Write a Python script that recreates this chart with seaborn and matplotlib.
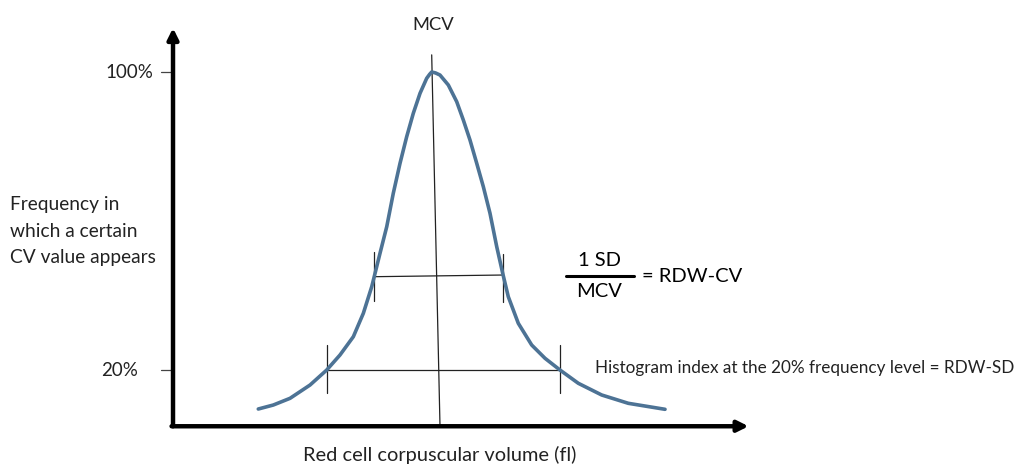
import matplotlib
matplotlib.use("Agg")
import matplotlib.pyplot as plt
import seaborn as sns
import pandas as pd

# ---- data (volume in arbitrary units, frequency in %) ----
volume = [14.83, 17.44, 20.35, 23.83, 26.73, 29.04, 31.36, 33.10, 34.56, 36.0,
          37.17, 38.31, 39.48, 40.64, 41.79, 42.96, 44.12, 44.64, 44.99, 45.65,
          46.43, 47.88, 49.34, 50.49, 51.65, 52.82, 53.97, 55.13, 56.30, 57.34,
          58.31, 60.05, 62.38, 64.70, 67.30, 70.49, 74.56, 79.18, 85.57]
frequency = [9.53, 10.60, 12.40, 15.97, 20.0, 24.03, 28.94, 35.22, 42.36, 51.33,
             58.47, 67.44, 75.49, 82.63, 88.91, 94.28, 98.31, 99.40, 100.0, 99.75,
             99.19, 96.51, 92.03, 87.11, 81.74, 75.49, 69.21, 62.07, 53.10, 45.96,
             39.68, 32.54, 26.71, 23.14, 20.0, 16.43, 13.29, 11.06, 9.45]
tick_values = [100, 20]
tick_labels = ["100%", "20%"]
sd_level = [45.05, 45.5]          # left / right of 1 SD line
sd_x = [34.99, 57.4]
rdw_sd_level = 20.0
rdw_sd_x = [26.73, 67.30]
mcv_x = [44.99, 46.43]

df = pd.DataFrame({"volume": volume, "frequency": frequency})

sns.set_style("white")
plt.rcParams["font.family"] = ["Lato", "DejaVu Sans"]

fig = plt.figure(figsize=(10.21, 4.66), dpi=100)
ax = fig.add_axes([0, 0, 1, 1])
ax.set_xlim(-30.09, 147.48)
ax.set_ylim(-5.77, 119.33)
ax.axis("off")

curve_color = "#4d7395"
thin = dict(color="#222222", lw=0.9)

# MCV vertical line
ax.plot(mcv_x, [104.6, 5.2], **thin)
# 1 SD line with end ticks
ax.plot(sd_x, sd_level, **thin)
ax.plot([sd_x[0], sd_x[0]], [sd_level[0] - 6.4, sd_level[0] + 6.6], **thin)
ax.plot([sd_x[1], sd_x[1]], [sd_level[1] - 7.2, sd_level[1] + 5.6], **thin)
# 20% line with end ticks
ax.plot(rdw_sd_x, [rdw_sd_level, rdw_sd_level], **thin)
for xv in rdw_sd_x:
    ax.plot([xv, xv], [rdw_sd_level - 6.1, rdw_sd_level + 6.8], **thin)

# curve
sns.lineplot(data=df, x="volume", y="frequency", sort=False, ax=ax,
             color=curve_color, lw=2.6, estimator=None)
ax.lines[-1].set_solid_joinstyle("round")
ax.lines[-1].set_solid_capstyle("round")

# axes arrows
ax.annotate("", xy=(0, 111.8), xytext=(0, 4.9),
            arrowprops=dict(arrowstyle="-|>", lw=3.2, color="black",
                            mutation_scale=16, shrinkA=0, shrinkB=0))
ax.annotate("", xy=(100.1, 4.9), xytext=(-0.25, 4.9),
            arrowprops=dict(arrowstyle="-|>", lw=3.2, color="black",
                            mutation_scale=16, shrinkA=0, shrinkB=0))

# y ticks
for v, lab, xr in zip(tick_values, tick_labels, [-3.48, -6.09]):
    ax.plot([-2.09, 0], [v, v], color="#444444", lw=0.9)
    ax.text(xr, v, lab, ha="right", va="center", fontsize=13.5, color="#222222")

ax.text(45.2, 112.6, "MCV", ha="center", va="center", fontsize=13.2, color="#222222")
for yy, line in zip([64.3, 57.3, 50.3],
                    ["Frequency in", "which a certain", "CV value appears"]):
    ax.text(-28.35, yy, line, ha="left", va="center", fontsize=13.8, color="#222222")
ax.text(46.4, -2.8, "Red cell corpuscular volume (fl)", ha="center", va="center",
        fontsize=14.4, color="#222222")

# fraction
ax.text(74.1, 49.4, "1 SD", ha="center", va="center", fontsize=14.5, color="black")
ax.text(74.1, 41.0, "MCV", ha="center", va="center", fontsize=14.5, color="black")
ax.plot([68.3, 80.2], [45.2, 45.2], color="black", lw=2.2)
ax.text(81.6, 45.2, "= RDW-CV", ha="left", va="center", fontsize=14.5, color="black")

ax.text(73.4, 20.5, "Histogram index at the 20% frequency level = RDW-SD",
        ha="left", va="center", fontsize=12.3, color="#222222")

fig.savefig("out.png", dpi=100)
